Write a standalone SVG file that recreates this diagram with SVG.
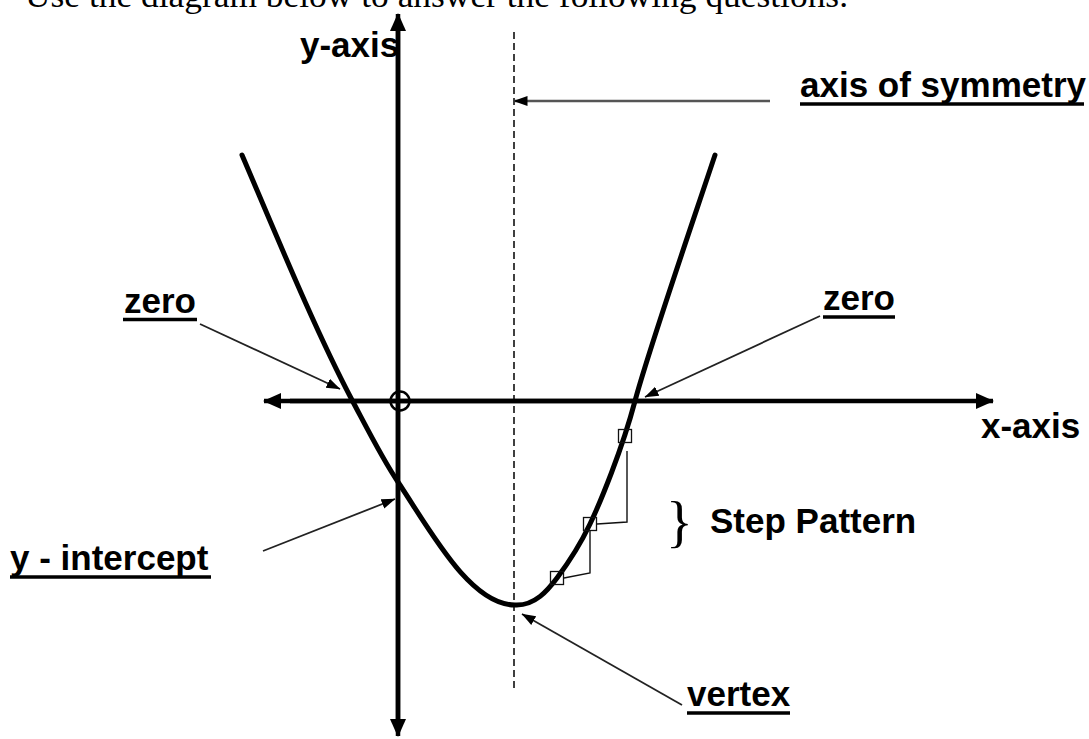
<svg xmlns="http://www.w3.org/2000/svg" width="1089" height="739" viewBox="0 0 1089 739">
<style>
.lbl{font-family:"Liberation Sans",Arial,sans-serif;font-weight:bold;font-size:35px;fill:#000}
.ul{stroke:#000;stroke-width:3.5}
.axis{stroke:#000;stroke-width:4.5;fill:none}
.conn{stroke:#222;stroke-width:1.8;fill:none}
.step{stroke:#111;stroke-width:1.4;fill:none}
.sq{stroke:#111;stroke-width:1.3;fill:none}
</style>
<defs>
<marker id="bigHead" markerUnits="userSpaceOnUse" markerWidth="18" markerHeight="18" viewBox="0 0 18 18" refX="17" refY="9" orient="auto">
<path d="M0,1 L18,9 L0,17 Z" fill="#000"/>
</marker>
<marker id="head" markerUnits="userSpaceOnUse" markerWidth="14" markerHeight="12" viewBox="0 0 14 12" refX="13.5" refY="6" orient="auto">
<path d="M0,1 L14,6 L0,11 Z" fill="#000"/>
</marker>
</defs>
<rect width="1089" height="739" fill="#fff"/>

<text x="25" y="7" font-family="'Liberation Serif','Times New Roman',serif" font-size="34" textLength="823" lengthAdjust="spacingAndGlyphs" fill="#000">Use the diagram below to answer the following questions.</text>

<g id="axes">
<line class="axis" x1="398" y1="730" x2="398" y2="14" marker-end="url(#bigHead)"/>
<line class="axis" x1="398" y1="30" x2="398" y2="736" marker-end="url(#bigHead)"/>
<line class="axis" x1="290" y1="401" x2="993" y2="401" marker-end="url(#bigHead)"/>
<line class="axis" x1="700" y1="401" x2="264" y2="401" marker-end="url(#bigHead)"/>
<circle cx="400" cy="401" r="9.5" fill="none" stroke="#000" stroke-width="2.5"/>
</g>

<g id="axis-of-symmetry-line">
<line x1="514" y1="32" x2="514" y2="692" stroke="#000" stroke-width="1.5" stroke-dasharray="7,4"/>
</g>

<g id="parabola">
<path d="M242,155 C275,232 315,330 352,400 C370,434 383,460 398,482 C430,530 470,605 515,605 C535,606 548,590 557,578 C566,566 580,545 590,524 C600,503 622,450 635,401 C648,352 690,230 715,155" fill="none" stroke="#000" stroke-width="5" stroke-linecap="round"/>
</g>

<g id="step-pattern">
<rect class="sq" x="618.5" y="429.5" width="13" height="13"/>
<rect class="sq" x="583.5" y="517.5" width="13" height="13"/>
<rect class="sq" x="550.5" y="571.5" width="13" height="13"/>
<polyline class="step" points="627,451 627,522 597,524"/>
<polyline class="step" points="590,531 590,573 564,578"/>
</g>

<g id="connectors">
<line x1="770" y1="101" x2="514" y2="101" stroke="#555" stroke-width="2.5" marker-end="url(#head)"/>
<line class="conn" x1="200" y1="324" x2="340" y2="389" marker-end="url(#head)"/>
<line class="conn" x1="820" y1="316" x2="645" y2="397" marker-end="url(#head)"/>
<line class="conn" x1="263" y1="551" x2="395" y2="499" marker-end="url(#head)"/>
<line class="conn" x1="682" y1="705" x2="522" y2="614" marker-end="url(#head)"/>
</g>

<g id="label-y-axis"><text class="lbl" x="300" y="57" font-size="34">y-axis</text></g>
<g id="label-x-axis"><text class="lbl" x="981" y="438">x-axis</text></g>
<g id="label-axis-of-symmetry">
<text class="lbl" x="800" y="97">axis of symmetry</text>
<line class="ul" x1="800" y1="104" x2="1084" y2="104"/>
</g>
<g id="label-zero-left">
<text class="lbl" x="124" y="313">zero</text>
<line class="ul" x1="123" y1="319.5" x2="197" y2="319.5"/>
</g>
<g id="label-zero-right">
<text class="lbl" x="823" y="310">zero</text>
<line class="ul" x1="823" y1="317" x2="895" y2="317"/>
</g>
<g id="label-y-intercept">
<text class="lbl" x="10" y="570">y - intercept</text>
<line class="ul" x1="10" y1="577" x2="211" y2="577"/>
</g>
<g id="label-vertex">
<text class="lbl" x="687" y="706">vertex</text>
<line class="ul" x1="687" y1="713" x2="790" y2="713"/>
</g>
<g id="label-step-pattern">
<text x="666" y="541" font-family="'Liberation Serif','Times New Roman',serif" font-size="56" fill="#000">}</text>
<text class="lbl" x="710" y="533">Step Pattern</text>
</g>
</svg>
